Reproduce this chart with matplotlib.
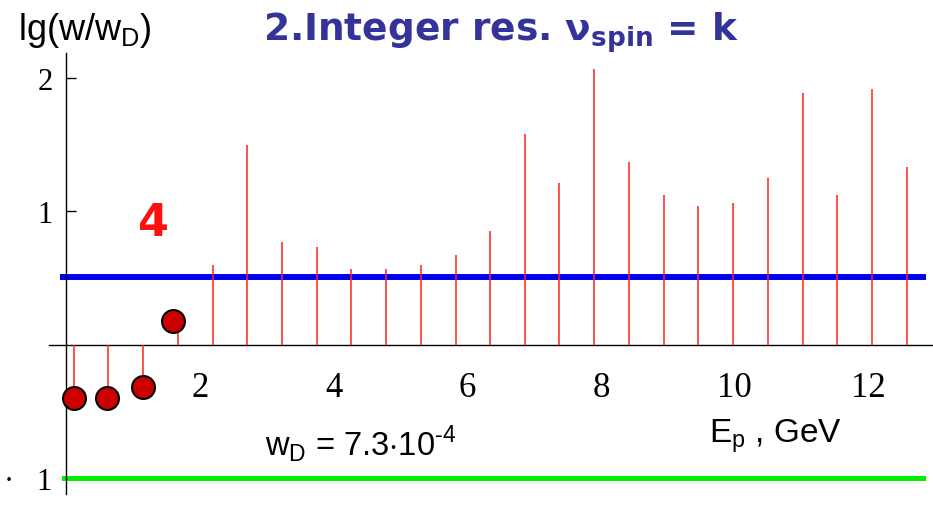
import numpy as np
import matplotlib.pyplot as plt

# resonance energies (GeV) and lg(w/wD) values
energy = [0.11, 0.62, 1.15, 1.67, 2.19, 2.70, 3.23, 3.75, 4.26, 4.78, 5.30, 5.83,
          6.34, 6.86, 7.38, 7.90, 8.42, 8.95, 9.46, 9.98, 10.50, 11.03, 11.54,
          12.06, 12.58]
lg_w = [-0.40, -0.40, -0.32, 0.14, 0.60, 1.50, 0.77, 0.73, 0.57, 0.57, 0.60, 0.67,
        0.85, 1.58, 1.21, 2.07, 1.37, 1.12, 1.04, 1.06, 1.25, 1.89, 1.12, 1.92, 1.33]

# measured points (circles)
pt_energy = [0.11, 0.60, 1.15, 1.59]
pt_lg_w = [-0.40, -0.40, -0.32, 0.175]

blue_level = 0.51
green_level = -1.0

ytick_vals = [-1, 1, 2]
ytick_labels = ['\u00b7   1', '1', '2']
xtick_vals = [2, 4, 6, 8, 10, 12]

plt.rcParams['mathtext.fontset'] = 'custom'
plt.rcParams['mathtext.rm'] = 'Liberation Sans'
plt.rcParams['mathtext.bf'] = 'DejaVu Sans:bold'

fig = plt.figure(figsize=(9.33, 5.06), dpi=100)
ax = fig.add_axes([0, 0, 1, 1])
ax.set_xlim(-66.5 / 66.8, (933 - 66.5) / 66.8)
ax.set_ylim((345.5 - 506) / 133.3, 345.5 / 133.3)
ax.patch.set_alpha(0)

for s in ['top', 'right']:
    ax.spines[s].set_visible(False)
ax.spines['left'].set_position(('data', 0))
ax.spines['bottom'].set_position(('data', 0))
ax.spines['left'].set_bounds(-1.12, 2.19)
ax.spines['bottom'].set_bounds(-0.26, 12.97)
ax.spines['left'].set_linewidth(1.0)
ax.spines['bottom'].set_linewidth(1.0)

ax.set_yticks(ytick_vals)
ax.set_yticklabels(ytick_labels, family='Liberation Serif', fontsize=22)
ax.tick_params(axis='y', direction='in', length=7, width=1, pad=10)
ax.set_xticks(xtick_vals)
ax.set_xticklabels([str(v) for v in xtick_vals], family='Liberation Serif', fontsize=25)
ax.tick_params(axis='x', length=0, pad=19)

ax.plot([-0.05, 12.82], [blue_level, blue_level], color='#0000ee', lw=4.3, zorder=2)
ax.plot([-0.04, 12.82], [green_level, green_level], color='#00ee00', lw=3.6, zorder=2)

ax.vlines(energy, 0, lg_w, color='#ff2020', lw=1.1, zorder=3)
ax.plot(pt_energy, pt_lg_w, 'o', ms=16.5, mfc='#cc0000', mec='black', mew=1.5,
        zorder=4, clip_on=False)

fig.text(18 / 933, 1 - 30 / 506, r'lg(w/w$_{\rm D}$)', family='Liberation Sans',
         fontsize=26, va='center', ha='left')
fig.text(501 / 933, 1 - 33 / 506, '2.Integer res. \u03bd$_{\\bf spin}$ = k',
         family='DejaVu Sans', fontweight='bold', fontsize=27, color='#333399',
         ha='center', va='center')
fig.text(154 / 933, 1 - 224 / 506, '4', family='DejaVu Sans', fontweight='bold',
         fontsize=32, color='#ff1010', ha='center', va='center')
fig.text(265 / 933, 1 - 455 / 506, r'w$_{\rm D}$ = 7.3$\cdot$10$^{\rm \text{-}4}$',
         family='Liberation Sans', fontsize=23.5, ha='left', va='baseline')
fig.text(709 / 933, 1 - 442 / 506, r'E$_{\rm p}$ , GeV', family='Liberation Sans',
         fontsize=24, ha='left', va='baseline')

fig.savefig('out.png', dpi=100)
